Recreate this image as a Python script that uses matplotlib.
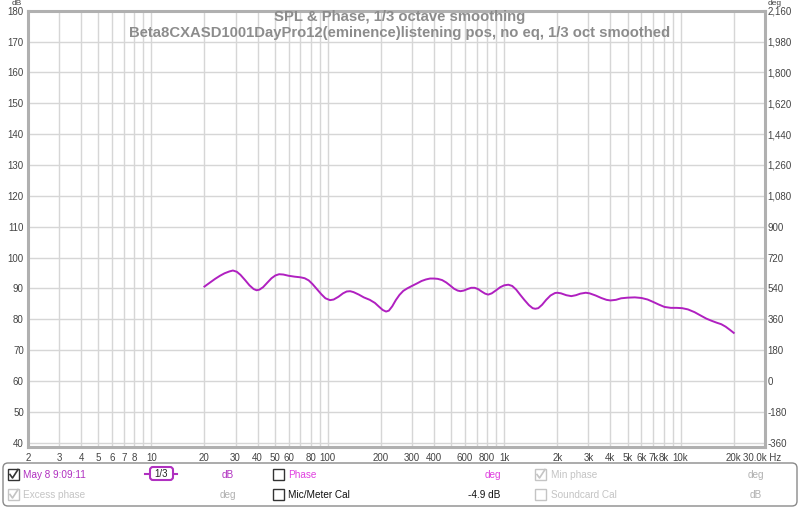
import matplotlib
matplotlib.use('Agg')
from matplotlib import pyplot as plt
from matplotlib.patches import FancyBboxPatch, Rectangle
from matplotlib.lines import Line2D
from matplotlib.ticker import FixedLocator, FuncFormatter, NullLocator

plt.rcParams['font.family'] = ['Liberation Sans', 'DejaVu Sans']

# SPL curve (Hz, dB)
freq = [20, 21.5, 23, 24.5, 26, 27.7, 29, 30.5, 32, 34, 36, 38, 39.5, 41, 43,
        45.5, 48, 50.5, 53, 56, 60, 65, 70, 74, 78, 82, 87, 92, 97, 103, 108,
        115, 122, 128, 134, 140, 150, 160, 173, 185, 195, 205, 214, 222, 232,
        243, 255, 268, 282, 300, 320, 340, 360, 380, 400, 420, 445, 470, 495,
        520, 545, 565, 590, 620, 650, 680, 710, 745, 780, 812, 850, 900, 950,
        1000, 1056, 1110, 1170, 1230, 1300, 1380, 1450, 1500, 1560, 1640, 1730,
        1830, 1940, 2000, 2100, 2250, 2400, 2550, 2700, 2900, 3050, 3300, 3550,
        3800, 4000, 4300, 4600, 5000, 5500, 6000, 6500, 7000, 7500, 8100, 8800,
        9500, 10200, 11000, 12000, 13000, 14000, 15000, 16000, 17000, 18000,
        19000, 20000]
spl = [90.6, 91.9, 93.1, 94.1, 94.9, 95.5, 95.8, 95.4, 94.4, 92.7, 91.0, 89.8,
       89.4, 89.6, 90.4, 91.9, 93.3, 94.2, 94.6, 94.5, 94.1, 93.8, 93.6, 93.3,
       92.6, 91.4, 89.7, 88.1, 86.8, 86.2, 86.4, 87.3, 88.4, 89.0, 89.1, 88.8,
       88.0, 87.1, 86.3, 85.3, 84.1, 83.0, 82.5, 82.8, 84.2, 86.2, 87.9, 89.2,
       90.0, 90.8, 91.6, 92.4, 92.9, 93.2, 93.2, 93.1, 92.7, 91.9, 90.9, 89.9,
       89.3, 89.1, 89.3, 89.8, 90.2, 90.2, 89.8, 89.0, 88.3, 88.0, 88.4, 89.4,
       90.4, 91.0, 91.2, 90.8, 89.6, 88.0, 86.3, 84.6, 83.6, 83.4, 83.6, 84.7,
       86.3, 87.7, 88.5, 88.6, 88.4, 87.8, 87.5, 87.8, 88.3, 88.6, 88.4, 87.7,
       86.9, 86.3, 86.1, 86.3, 86.8, 87.0, 87.1, 86.9, 86.4, 85.6, 84.8, 84.0,
       83.7, 83.7, 83.6, 83.2, 82.3, 81.2, 80.2, 79.5, 78.9, 78.4, 77.6, 76.6,
       75.6]

# x tick labels (REW drops some to avoid crowding)
xtick_pos = [2, 3, 4, 5, 6, 7, 8, 10, 20, 30, 40, 50, 60, 80, 100, 200, 300,
             400, 600, 800, 1000, 2000, 3000, 4000, 5000, 6000, 7000, 8000,
             10000, 20000]
xtick_lab = ['2', '3', '4', '5', '6', '7', '8', '10', '20', '30', '40', '50',
             '60', '80', '100', '200', '300', '400', '600', '800', '1k', '2k',
             '3k', '4k', '5k', '6k', '7k', '8k', '10k', '20k']
grid_x = [m * 10 ** e for e in range(0, 5) for m in range(1, 10)
          if 2 <= m * 10 ** e <= 30000]
db_ticks = list(range(40, 181, 10))
deg_ticks = list(range(-360, 2161, 180))

fig = plt.figure(figsize=(8, 5.08), dpi=100)
ax = fig.add_axes([0.035, 0.12, 0.921, 0.859])
ax.set_xscale('log')
ax.set_xlim(2, 30000)
ax.set_ylim(38.6, 180)

for gx in grid_x:
    ax.axvline(gx, color='#d6d6d6', lw=1, zorder=0)
for gy in db_ticks:
    ax.axhline(gy, color='#d6d6d6', lw=1, zorder=0)

ax.plot(freq, spl, color='#b020c0', lw=1.4, zorder=3)

ax.xaxis.set_major_locator(FixedLocator(xtick_pos))
ax.xaxis.set_minor_locator(NullLocator())
ax.set_xticklabels(xtick_lab)
ax.set_yticks(db_ticks)
ax.tick_params(axis='both', length=0, labelsize=7, colors='#444444')
ax.tick_params(axis='x', pad=4)
ax.tick_params(axis='y', pad=3)
for s in ax.spines.values():
    s.set_color('#b0b0b0')
    s.set_linewidth(2.2)

ax2 = ax.twinx()
ax2.set_ylim((38.6 - 60) * 18, (180 - 60) * 18)
ax2.set_yticks(deg_ticks)
ax2.yaxis.set_major_formatter(FuncFormatter(lambda v, p: '{:,}'.format(int(v))))
ax2.tick_params(axis='y', length=0, labelsize=7, colors='#444444', pad=2)
for s in ax2.spines.values():
    s.set_visible(False)

ax.annotate('30.0k Hz', xy=(1, 0), xycoords='axes fraction', xytext=(-15.5, -4),
            textcoords='offset points', ha='left', va='top', fontsize=7,
            color='#444444')
fig.text(17 / 800, 1 - 3.5 / 508, 'dB', fontsize=6, color='#444444', ha='center', va='center')
fig.text(775 / 800, 1 - 3.5 / 508, 'deg', fontsize=6, color='#444444', ha='center', va='center')

# titles
fig.text(0.5, 1 - 17.5 / 508, 'SPL & Phase, 1/3 octave smoothing', ha='center',
         va='center', fontsize=10.7, fontweight='bold', color='#8c8c8c')
fig.text(0.5, 1 - 33.5 / 508,
         'Beta8CXASD1001DayPro12(eminence)listening pos, no eq, 1/3 oct smoothed',
         ha='center', va='center', fontsize=10.7, fontweight='bold', color='#8c8c8c')

# legend panel drawn in pixel coordinates
lp = fig.add_axes([0, 0, 1, 1], facecolor='none')
lp.set_xlim(0, 800)
lp.set_ylim(508, 0)
lp.axis('off')
lp.add_patch(FancyBboxPatch((3, 463), 794, 43, boxstyle='round,pad=0,rounding_size=5',
                            fc='white', ec='#8a8a8a', lw=1))


def checkbox(x, y, checked, color):
    lp.add_patch(Rectangle((x, y - 5.5), 11, 11, fc='white', ec=color, lw=1))
    if checked:
        lp.add_line(Line2D([x + 2, x + 4.5, x + 10], [y, y + 3.5, y - 5], color=color, lw=1.2))


r1, r2 = 474.5, 494.5
purple = '#b030c0'
pink = '#e040e0'
light = '#c4c4c4'
fs = 7.2

checkbox(8, r1, True, '#333333')
lp.text(23, r1, 'May 8 9:09:11', color=purple, fontsize=fs, va='center')
lp.add_line(Line2D([145, 177], [r1 - 1, r1 - 1], color=purple, lw=1.5))
lp.add_patch(FancyBboxPatch((150, 467), 23, 13, boxstyle='round,pad=0,rounding_size=3',
                            fc='white', ec=purple, lw=1.5, zorder=3))
lp.text(161.5, r1 - 0.5, '1/3', color='#222222', fontsize=7, ha='center', va='center', zorder=4)
lp.text(228, r1, 'dB', color=purple, fontsize=fs, ha='center', va='center')
checkbox(273, r1, False, '#333333')
lp.text(288, r1, 'Phase', color=pink, fontsize=fs, va='center')
lp.text(493, r1, 'deg', color=pink, fontsize=fs, ha='center', va='center')
checkbox(535, r1, True, light)
lp.text(551, r1, 'Min phase', color=light, fontsize=fs, va='center')
lp.text(756, r1, 'deg', color='#b0b0b0', fontsize=fs, ha='center', va='center')

checkbox(8, r2, True, light)
lp.text(23, r2, 'Excess phase', color=light, fontsize=fs, va='center')
lp.text(228, r2, 'deg', color='#b0b0b0', fontsize=fs, ha='center', va='center')
checkbox(273, r2, False, '#333333')
lp.text(288, r2, 'Mic/Meter Cal', color='#111111', fontsize=fs, va='center')
lp.text(500, r2, '-4.9 dB', color='#111111', fontsize=fs, ha='right', va='center')
checkbox(535, r2, False, light)
lp.text(551, r2, 'Soundcard Cal', color=light, fontsize=fs, va='center')
lp.text(756, r2, 'dB', color='#b0b0b0', fontsize=fs, ha='center', va='center')

fig.savefig('out.png', dpi=100, facecolor='white')
